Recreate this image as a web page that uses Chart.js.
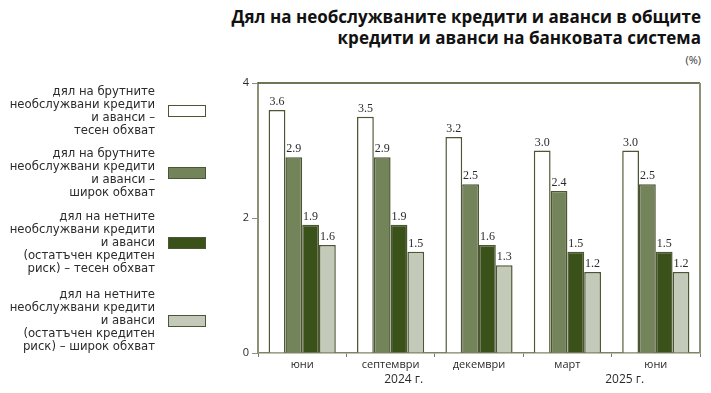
<!DOCTYPE html>
<html>
<head>
<meta charset="utf-8">
<script src="https://cdn.jsdelivr.net/npm/chart.js@4"></script>
<style>
  html, body { margin: 0; padding: 0; background: #fff; }
  body { width: 711px; height: 393px; position: relative; overflow: hidden; font-family: "Open Sans", sans-serif; color: #2b2b2b; }
  #chart { position: absolute; left: 0; top: 0; }
  #title { position: absolute; right: 10px; top: 6px; text-align: right; font-weight: bold; font-size: 17px; line-height: 21px; color: #111; }
  #unit { position: absolute; right: 10px; top: 52px; font-size: 11px; color: #333; }
  #legend { position: absolute; left: 0; top: 0; width: 711px; z-index: 2; }
  .item { position: absolute; right: 505px; display: flex; align-items: center; }
  .item .txt { white-space: nowrap; text-align: right; font-family: "DejaVu Sans", sans-serif; font-size: 11.7px; line-height: 13px; color: #2b2b2b; }
  .item .box { margin-left: 13px; width: 36px; height: 10px; border: 1.2px solid #4c5634; }
</style>
</head>
<body>
<div id="title">Дял на необслужваните кредити и аванси в общите<br>кредити и аванси на банковата система</div>
<div id="unit">(%)</div>
<div id="legend"></div>
<canvas id="chart" width="711" height="393"></canvas>
<script>
const categories = ["юни", "септември", "декември", "март", "юни"];
const grossNarrow = [3.6, 3.5, 3.2, 3.0, 3.0];
const grossBroad = [2.9, 2.9, 2.5, 2.4, 2.5];
const netNarrow = [1.9, 1.9, 1.6, 1.5, 1.5];
const netBroad = [1.6, 1.5, 1.3, 1.2, 1.2];
const yTicks = [0, 2, 4];
const years = ["2024 г.", "2025 г."];
const yearFirstIndex = [0, 3];   // first category of each year
const yearLastIndex = [2, 4];

const seriesNames = [
    "дял на брутните<br>необслужвани кредити<br>и аванси –<br>тесен обхват",
    "дял на брутните<br>необслужвани кредити<br>и аванси –<br>широк обхват",
    "дял на нетните<br>необслужвани кредити<br>и аванси<br>(остатъчен кредитен<br>риск) – тесен обхват",
    "дял на нетните<br>необслужвани кредити<br>и аванси<br>(остатъчен кредитен<br>риск) – широк обхват"
];
const seriesColors = ["#ffffff", "#74845a", "#3a5119", "#c3cab9"];
const borderCol = "#4c5634";

// legend (left side, text right-aligned, box on the right)
const legendTops = [85, 147, 210, 288];
const legendEl = document.getElementById("legend");
seriesNames.forEach((name, i) => {
    const item = document.createElement("div");
    item.className = "item";
    item.style.top = legendTops[i] + "px";
    item.innerHTML = `<div class="txt">${name}</div><div class="box" style="background:${seriesColors[i]}"></div>`;
    legendEl.appendChild(item);
});

const valueLabels = {
    id: "valueLabels",
    afterDatasetsDraw(chart) {
        const ctx = chart.ctx;
        ctx.save();
        ctx.font = '12px "Liberation Serif"';
        ctx.fillStyle = "#2b2b2b";
        ctx.textAlign = "center";
        ctx.textBaseline = "bottom";
        chart.data.datasets.forEach((ds, di) => {
            chart.getDatasetMeta(di).data.forEach((bar, i) => {
                ctx.fillText(ds.data[i].toFixed(1), bar.x, bar.y - 2);
            });
        });
        ctx.restore();
    }
};

const frame = {
    id: "frame",
    afterDraw(chart) {
        const { ctx, chartArea: a, scales } = chart;
        ctx.save();
        // top line
        ctx.strokeStyle = "#3b4a22";
        ctx.lineWidth = 1.5;
        ctx.beginPath();
        ctx.moveTo(a.left, a.top);
        ctx.lineTo(a.right, a.top);
        ctx.stroke();
        // right line
        ctx.strokeStyle = "#8b9276";
        ctx.lineWidth = 2;
        ctx.beginPath();
        ctx.moveTo(a.right, a.top);
        ctx.lineTo(a.right, a.bottom);
        ctx.stroke();
        // year labels under the month names
        ctx.font = '12px "Open Sans"';
        ctx.fillStyle = "#2b2b2b";
        ctx.textAlign = "center";
        ctx.textBaseline = "middle";
        years.forEach((y, i) => {
            const x0 = scales.x.getPixelForValue(yearFirstIndex[i]);
            const x1 = scales.x.getPixelForValue(yearLastIndex[i]);
            ctx.fillText(y, (x0 + x1) / 2 + 13, a.bottom + 27);
        });
        ctx.restore();
    }
};

new Chart(document.getElementById("chart"), {
    type: "bar",
    data: {
        labels: categories,
        datasets: [grossNarrow, grossBroad, netNarrow, netBroad].map((d, i) => ({
            label: seriesNames[i].replace(/<br>/g, " "),
            data: d,
            backgroundColor: seriesColors[i],
            borderColor: borderCol,
            borderWidth: 1.5,
            borderSkipped: "bottom",
            barPercentage: 1,
            categoryPercentage: 0.76
        }))
    },
    options: {
        responsive: false,
        animation: false,
        layout: { padding: { left: 228, top: 83, right: 11, bottom: 0 } },
        plugins: { legend: { display: false }, tooltip: { enabled: false } },
        scales: {
            x: {
                afterFit(scale) { scale.height = 40; },
                grid: { display: true, drawOnChartArea: false, tickLength: 4, color: "#777", offset: true },
                border: { color: "#7d8568", width: 1.5 },
                ticks: { color: "#2b2b2b", font: { family: "Open Sans", size: 11 }, padding: 1 }
            },
            y: {
                min: 0,
                max: 4,
                afterFit(scale) { scale.width = 30; },
                afterBuildTicks(scale) { scale.ticks = yTicks.map(v => ({ value: v })); },
                grid: { drawOnChartArea: false, tickLength: 6, color: "#8b9276" },
                border: { color: "#8b9276", width: 2 },
                ticks: { color: "#2b2b2b", font: { family: "Open Sans", size: 11 }, padding: 3 }
            }
        }
    },
    plugins: [valueLabels, frame]
});
</script>
</body>
</html>
